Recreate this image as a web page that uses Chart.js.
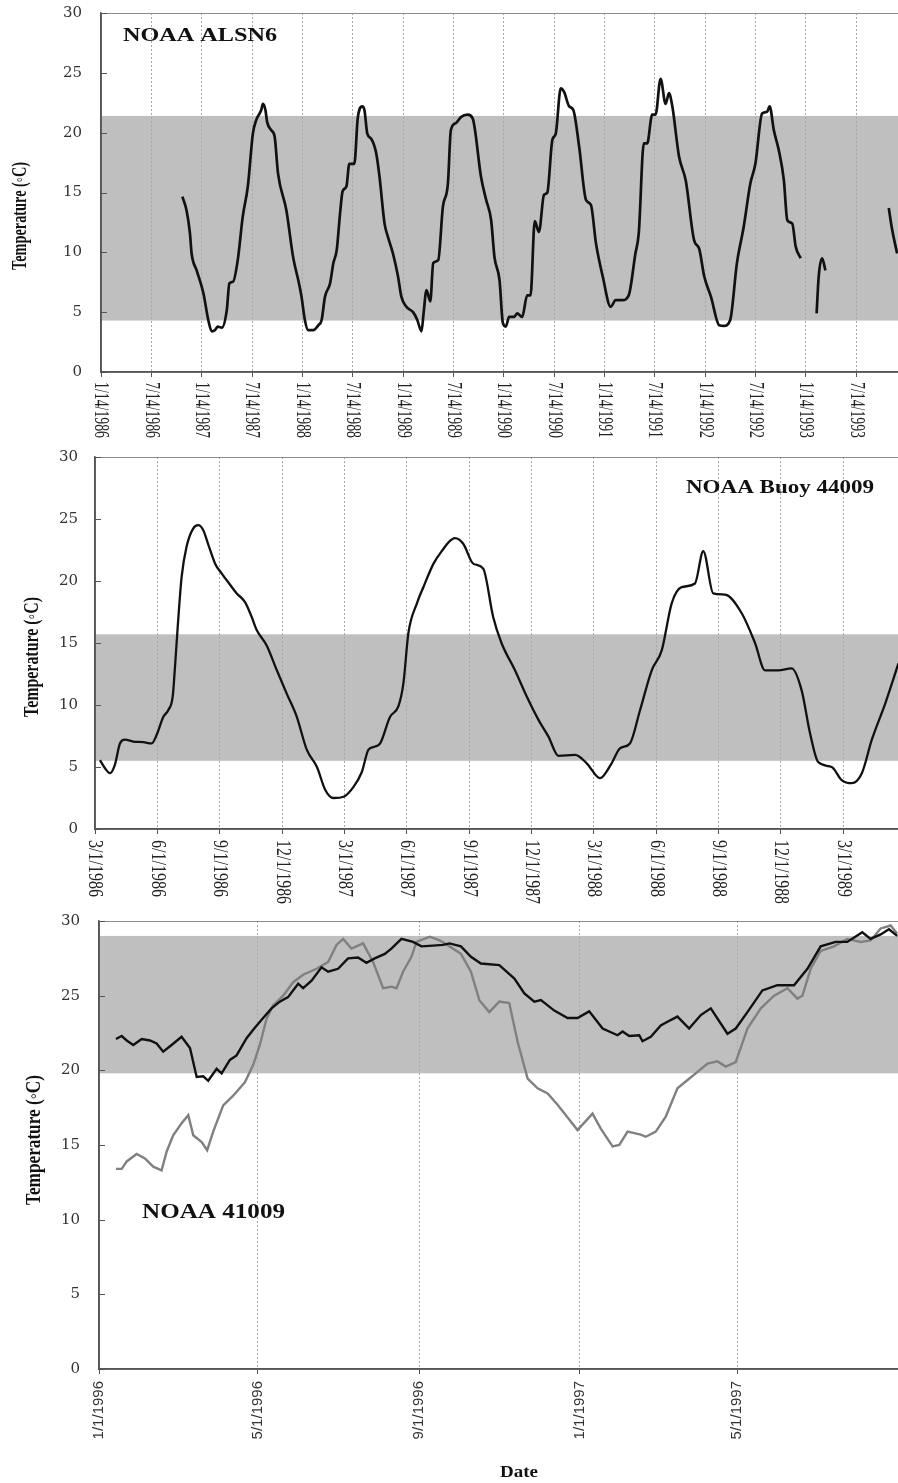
<!DOCTYPE html>
<html><head><meta charset="utf-8">
<script src="https://cdn.jsdelivr.net/npm/chart.js@4.4.1/dist/chart.umd.min.js"></script>
<style>
html,body{margin:0;padding:0;background:#fff;}
body{width:898px;height:1483px;position:relative;overflow:hidden;}
.p{position:absolute;left:0;width:898px;}
canvas{display:block;}
</style></head><body>
<div class="p" style="top:0;height:450px"><canvas id="c1" width="898" height="450"></canvas></div>
<div class="p" style="top:450px;height:455px"><canvas id="c2" width="898" height="455"></canvas></div>
<div class="p" style="top:905px;height:578px"><canvas id="c3" width="898" height="578"></canvas></div>
<script>
// ---------- Panel 1: NOAA ALSN6 (x = months since 1/14/1986) ----------
const alsn6Ticks = [0,6,12,18,24,30,36,42,48,54,60,66,72,78,84,90];
const alsn6TickLabels = ['1/14/1986','7/14/1986','1/14/1987','7/14/1987','1/14/1988','7/14/1988','1/14/1989','7/14/1989','1/14/1990','7/14/1990','1/14/1991','7/14/1991','1/14/1992','7/14/1992','1/14/1993','7/14/1993'];
const alsn6Month = [9.7,10.2,10.6,10.8,11.4,12.2,12.8,13.2,13.6,13.9,14.4,15.0,15.3,15.75,16.3,16.9,17.5,18.1,18.5,19.1,19.3,19.6,19.8,20.3,20.7,21.1,22.1,22.9,23.6,23.9,24.3,24.7,25.3,25.9,26.3,26.7,27.3,27.7,28.1,28.5,28.8,29.25,29.6,30.2,30.6,31.15,31.4,31.75,32.2,32.8,33.2,33.8,34.2,34.8,35.4,35.8,36.4,37.2,37.7,38.2,38.45,38.8,39.25,39.6,40.2,40.75,41.35,41.7,42.3,42.9,43.7,44.3,45.3,45.9,46.5,46.9,47.5,47.9,48.25,48.65,49.25,49.6,50.2,50.8,51.2,51.7,52.2,52.8,53.2,53.8,54.2,54.8,55.2,55.8,56.3,57.0,57.8,58.4,59.0,59.8,60.75,61.35,62.15,62.9,63.7,64.1,64.7,65.1,65.7,66.1,66.7,67.3,67.7,68.1,68.9,69.7,70.7,71.3,71.9,72.7,73.7,74.25,75.0,75.8,76.6,77.4,78.0,78.8,79.4,79.7,80.2,80.8,81.4,81.8,82.4,82.8,83.4,84.3,85.3,85.55,85.95,86.35,90,93.9,94.3,94.9];
const alsn6Temp = [14.65,13.5,11.6,9.9,8.5,6.6,4.3,3.4,3.5,3.8,3.7,5.2,7.4,7.55,9.35,13.0,15.5,19.9,21.05,21.9,22.4,21.9,20.9,20.2,19.65,16.6,13.5,9.6,7.4,6.3,4.35,3.5,3.5,3.9,4.35,6.3,7.4,9.1,10.2,13.3,15.1,15.5,17.4,17.4,21.2,22.2,21.9,19.9,19.5,18.3,16.3,12.4,11.3,9.9,8.0,6.3,5.45,5.0,4.35,3.4,4.9,6.85,5.9,9.1,9.35,13.8,15.75,20.2,20.8,21.3,21.5,21.2,16.3,14.4,12.7,9.6,7.7,4.1,3.8,4.6,4.6,4.9,4.6,6.4,6.4,12.6,11.7,14.8,15.0,19.4,19.9,23.7,23.4,22.2,21.9,18.8,14.4,13.95,10.75,8.0,5.45,6.0,6.0,6.4,9.9,11.6,19.1,19.1,21.5,21.5,24.5,22.4,23.3,22.2,18.0,16.0,11.0,10.3,8.0,6.3,3.9,3.85,4.35,9.1,12.1,15.75,17.4,21.6,21.75,22.2,20.2,18.5,16.0,12.7,12.4,10.5,9.5,null,4.9,8.0,9.5,8.5,null,13.7,11.9,9.9];
const alsn6Band = [4.3, 21.4];

// ---------- Panel 2: NOAA Buoy 44009 (x = months since 3/1/1986) ----------
const buoyTicks = [0,3,6,9,12,15,18,21,24,27,30,33,36];
const buoyTickLabels = ['3/1/1986','6/1/1986','9/1/1986','12/1/1986','3/1/1987','6/1/1987','9/1/1987','12/1/1987','3/1/1988','6/1/1988','9/1/1988','12/1/1988','3/1/1989'];
const buoyMonth = [0.24,0.48,0.72,0.96,1.2,1.44,1.84,2.33,2.73,2.97,3.29,3.53,3.74,3.85,3.98,4.17,4.41,4.73,4.97,5.21,5.46,5.78,6.1,6.5,6.82,7.22,7.54,7.78,8.26,8.75,9.23,9.71,10.19,10.68,11.08,11.48,11.96,12.44,12.84,13.16,13.48,13.72,14.2,14.6,14.84,15.08,15.49,15.8,16.29,16.77,17.0,17.32,17.72,18.2,18.68,19.16,19.56,20.21,20.77,21.34,21.82,22.3,23.1,23.66,24.3,24.86,25.26,25.74,26.23,26.79,27.27,27.75,28.23,28.87,29.27,29.75,30.32,31.12,31.76,32.24,32.88,33.52,34.0,34.41,34.8,35.45,35.93,36.41,36.9,37.38,38.02,38.66];
const buoyTemp = [5.56,4.9,4.5,5.2,6.9,7.2,7.05,7.0,6.9,7.6,9.05,9.6,10.7,13.1,16.3,20.35,22.8,24.25,24.5,24.1,22.9,21.4,20.6,19.7,19.0,18.3,17.1,16.05,14.8,12.8,10.9,9.05,6.4,5.0,3.15,2.5,2.6,3.4,4.6,6.4,6.65,6.9,9.05,9.9,11.75,15.8,18.2,19.5,21.4,22.6,23.1,23.45,23.0,21.4,21.0,17.1,15.0,12.8,10.7,8.8,7.45,5.9,5.97,5.3,4.1,5.3,6.5,6.9,9.6,12.8,14.4,18.2,19.5,19.8,22.4,19.0,18.9,17.4,15.0,12.8,12.8,12.95,11.2,7.7,5.4,5.0,3.95,3.7,4.5,7.2,10.1,13.35];
const buoyBand = [5.5, 15.7];

// ---------- Panel 3: NOAA 41009 (x = days since 1/1/1996) ----------
const p3Ticks = [0,121,244,366,486];
const p3TickLabels = ['1/1/1996','5/1/1996','9/1/1996','1/1/1997','5/1/1997'];
const darkDay = [12.9,17.3,21.1,26.1,32.5,38.8,43.9,48.9,55.3,62.9,69.3,74.4,79.4,83.2,89.6,93.4,99.7,104.8,112.4,118.7,125,131.4,137.7,144,151.7,155.5,161.9,169.5,174.5,182.1,189.7,197.3,203.7,210,217.7,222.7,230.4,239.2,245.6,254.4,262,267,275.7,283.3,290.9,304.9,316.4,324,331.6,336.6,346.8,356.9,364.5,373.4,383.6,395,398.8,403.9,411.5,414,420.3,427.9,433,440.6,449.5,458.4,466,478.7,485,493.9,505.3,516.7,529.4,539.6,549.7,561.1,570,581.4,587.7,595.4,601.7,608];
const darkTemp = [22.1,22.3,22.0,21.7,22.1,22.0,21.8,21.25,21.7,22.25,21.5,19.55,19.6,19.3,20.1,19.8,20.7,21.0,22.15,22.85,23.5,24.15,24.6,24.9,25.8,25.5,26.0,26.9,26.6,26.8,27.5,27.55,27.2,27.5,27.8,28.15,28.8,28.6,28.3,28.35,28.4,28.5,28.3,27.6,27.15,27.05,26.15,25.15,24.6,24.7,24.0,23.5,23.5,23.95,22.8,22.35,22.6,22.3,22.35,21.95,22.25,23.0,23.25,23.6,22.8,23.7,24.15,22.45,22.8,23.9,25.35,25.7,25.7,26.8,28.3,28.6,28.6,29.25,28.8,29.1,29.45,29.0];
const greyDay = [12.9,17.3,21.1,28.7,35,41.3,47.7,51.5,56.5,62.9,68,71.8,78.2,82.4,87,94.6,102.2,111.1,117.4,122.5,127.6,132.6,140.3,147.9,155.5,165.7,174.5,180.9,186,192.3,201.2,208.8,216.4,222.7,226.6,231.6,238,241.8,251.9,259.5,267,275.7,283.3,289.7,297.3,304.9,312.5,318.9,326.5,334.1,341.7,349.3,355.6,364.5,375.9,382.2,391.2,396.3,402.6,412.7,416.5,424.1,431.7,440.6,448.3,455.9,463.5,471.1,477.4,485,493.9,504.1,514.2,524.4,532,535.8,542.1,549.7,559.9,570,580.1,587.7,595.4,603,608];
const greyTemp = [13.4,13.4,13.9,14.4,14.1,13.55,13.3,14.55,15.65,16.45,17.0,15.65,15.2,14.65,15.9,17.65,18.3,19.2,20.35,21.7,23.45,24.35,25.0,25.9,26.4,26.8,27.25,28.4,28.8,28.15,28.5,27.25,25.5,25.6,25.5,26.6,27.6,28.6,28.95,28.7,28.3,27.8,26.6,24.7,23.9,24.6,24.5,21.9,19.45,18.8,18.45,17.7,17.0,16.0,17.1,16.1,14.9,15.0,15.9,15.7,15.55,15.9,16.9,18.8,19.35,19.9,20.45,20.6,20.25,20.55,22.8,24.15,25.0,25.5,24.8,25.0,26.8,28.0,28.3,28.8,28.6,28.7,29.5,29.7,29.15];
const p3Band = [19.8, 29.0];

const yTicks = [0,5,10,15,20,25,30];

// ---------- helpers ----------
const SERIF = '"Liberation Serif","Times New Roman",serif';
const SANS = '"Liberation Sans",Arial,sans-serif';
function pts(xs, ys){ return xs.map((x,i)=>({x:x, y:ys[i]})); }
function txt(ctx, s, x, y, font, o){
  ctx.save(); ctx.translate(x,y); if (o.rot) ctx.rotate(o.rot);
  ctx.font = font; ctx.fillStyle = o.color || '#111';
  ctx.textAlign = o.align || 'left'; ctx.textBaseline = o.base || 'alphabetic';
  let sx = o.sx || 1;
  if (o.len) sx = o.len / ctx.measureText(s).width;
  ctx.scale(sx, 1);
  ctx.fillText(s, 0, 0); ctx.restore();
}
function decor(p){
  return {
    id: 'decor',
    beforeDraw(chart){
      const {ctx, chartArea:a, scales:{y}} = chart;
      const t = y.getPixelForValue(p.band[1]), b = y.getPixelForValue(p.band[0]);
      ctx.save(); ctx.fillStyle = '#bfbfbf'; ctx.fillRect(a.left, t, a.right - a.left, b - t); ctx.restore();
    },
    afterDraw(chart){
      const {ctx, chartArea:a, scales:{x,y}} = chart;
      ctx.save();
      ctx.strokeStyle = '#8c8c8c'; ctx.lineWidth = 1.2;
      ctx.beginPath(); ctx.moveTo(a.left, a.top + 0.5); ctx.lineTo(a.right, a.top + 0.5); ctx.stroke();
      ctx.strokeStyle = '#555'; ctx.lineWidth = 1;
      yTicks.forEach(v => { const py = Math.round(y.getPixelForValue(v)) + 0.5; ctx.beginPath(); ctx.moveTo(a.left, py); ctx.lineTo(a.left + 6, py); ctx.stroke(); });
      ctx.strokeStyle = '#555'; ctx.lineWidth = 1.6;
      ctx.beginPath(); ctx.moveTo(a.left, a.top); ctx.lineTo(a.left, a.bottom); ctx.lineTo(a.right, a.bottom); ctx.stroke();
      ctx.restore();
      if (p.xLabels) p.xLabels.forEach((s,i) => txt(ctx, s, x.getPixelForValue(p.xTicks[i]), p.xLabelTop, '21px ' + SERIF, {rot: Math.PI/2, base:'middle', len: p.xLabelLen[i], color:'#222'}));
      txt(ctx, 'Temperature (\u25E6C)', p.yTitle[0], p.yTitle[1], 'bold 20px ' + SERIF, {rot: -Math.PI/2, align:'center', base:'middle', len: p.yTitle[2]});
      txt(ctx, p.title, p.titlePos[0], p.titlePos[1], p.titleFont, {len: p.titlePos[2]});
      if (p.dateTitle) txt(ctx, 'Date', p.dateTitle[0], p.dateTitle[1], 'bold 17px ' + SERIF, {align:'center', base:'middle', len: p.dateTitle[2]});
    }
  };
}
function makeChart(id, datasets, cfg){
  return new Chart(document.getElementById(id), {
    type: 'line',
    data: { datasets: datasets },
    options: {
      responsive: false, animation: false, devicePixelRatio: 1,
      layout: { padding: { top: cfg.top, left: 0, right: 0, bottom: 0 } },
      plugins: { legend: { display: false }, tooltip: { enabled: false } },
      elements: { point: { radius: 0 } },
      scales: {
        x: {
          type: 'linear', min: 0, max: cfg.xMax,
          afterBuildTicks: s => { s.ticks = cfg.xTicks.map(v => ({value: v})); },
          afterFit: s => { s.height = cfg.xH; s.paddingLeft = 0; s.paddingRight = 0; },
          grid: { display: true, color: '#a8a8a8', lineWidth: 1, drawTicks: true, tickLength: 5, tickColor: '#555', tickBorderDash: [] },
          border: { display: true, color: '#555', width: 1.5, dash: [2, 2] },
          ticks: cfg.xTickOpts
        },
        y: {
          type: 'linear', min: 0, max: 30,
          afterBuildTicks: s => { s.ticks = yTicks.map(v => ({value: v})); },
          afterFit: s => { s.width = cfg.yW; s.paddingTop = 0; s.paddingBottom = 0; },
          grid: { display: false },
          border: { display: true, color: '#555', width: 1.5 },
          ticks: { font: { family: '"DejaVu Serif",serif', size: 15 }, color: '#333', padding: cfg.yPad }
        }
      }
    },
    plugins: [decor(cfg.decor)]
  });
}

// ---------- Panel 1 ----------
makeChart('c1', [{
  data: pts(alsn6Month, alsn6Temp), borderColor: '#111', borderWidth: 2.7,
  cubicInterpolationMode: 'monotone', spanGaps: false, fill: false
}], {
  top: 13, xMax: 95, xH: 78, yW: 101, yPad: 11, xTicks: alsn6Ticks,
  xTickOpts: { display: false },
  decor: { band: alsn6Band, xLabels: alsn6TickLabels, xTicks: alsn6Ticks, xLabelTop: 382,
           xLabelLen: alsn6TickLabels.map(() => 56),
           yTitle: [21, 216, 108], title: 'NOAA ALSN6', titlePos: [123, 41, 154], titleFont: 'bold 19px ' + SERIF }
});

// ---------- Panel 2 ----------
makeChart('c2', [{
  data: pts(buoyMonth, buoyTemp), borderColor: '#111', borderWidth: 2.3,
  cubicInterpolationMode: 'monotone', fill: false
}], {
  top: 7, xMax: 38.64, xH: 76, yW: 95, yPad: 9, xTicks: buoyTicks,
  xTickOpts: { display: false },
  decor: { band: buoyBand, xLabels: buoyTickLabels, xTicks: buoyTicks, xLabelTop: 390,
           xLabelLen: buoyTickLabels.map(s => s.length > 8 ? 64 : 57),
           yTitle: [33, 207, 120], title: 'NOAA Buoy 44009', titlePos: [686, 43, 188], titleFont: 'bold 19px ' + SERIF }
});

// ---------- Panel 3 ----------
makeChart('c3', [
  { data: pts(darkDay, darkTemp), borderColor: '#111', borderWidth: 2.4, tension: 0, fill: false },
  { data: pts(greyDay, greyTemp), borderColor: '#808080', borderWidth: 2.4, tension: 0, fill: false }
], {
  top: 16, xMax: 608.6, xH: 114, yW: 99, yPad: 11, xTicks: p3Ticks,
  xTickOpts: { display: true, autoSkip: false, minRotation: 90, maxRotation: 90, padding: 7,
               font: { family: SANS, size: 15 }, color: '#333',
               callback: (v, i) => p3TickLabels[i] },
  decor: { band: p3Band, xLabels: null,
           yTitle: [35, 235, 130], title: 'NOAA 41009', titlePos: [142, 313, 143], titleFont: 'bold 22px ' + SERIF,
           dateTitle: [519, 568, 38] }
});
</script>
</body></html>
